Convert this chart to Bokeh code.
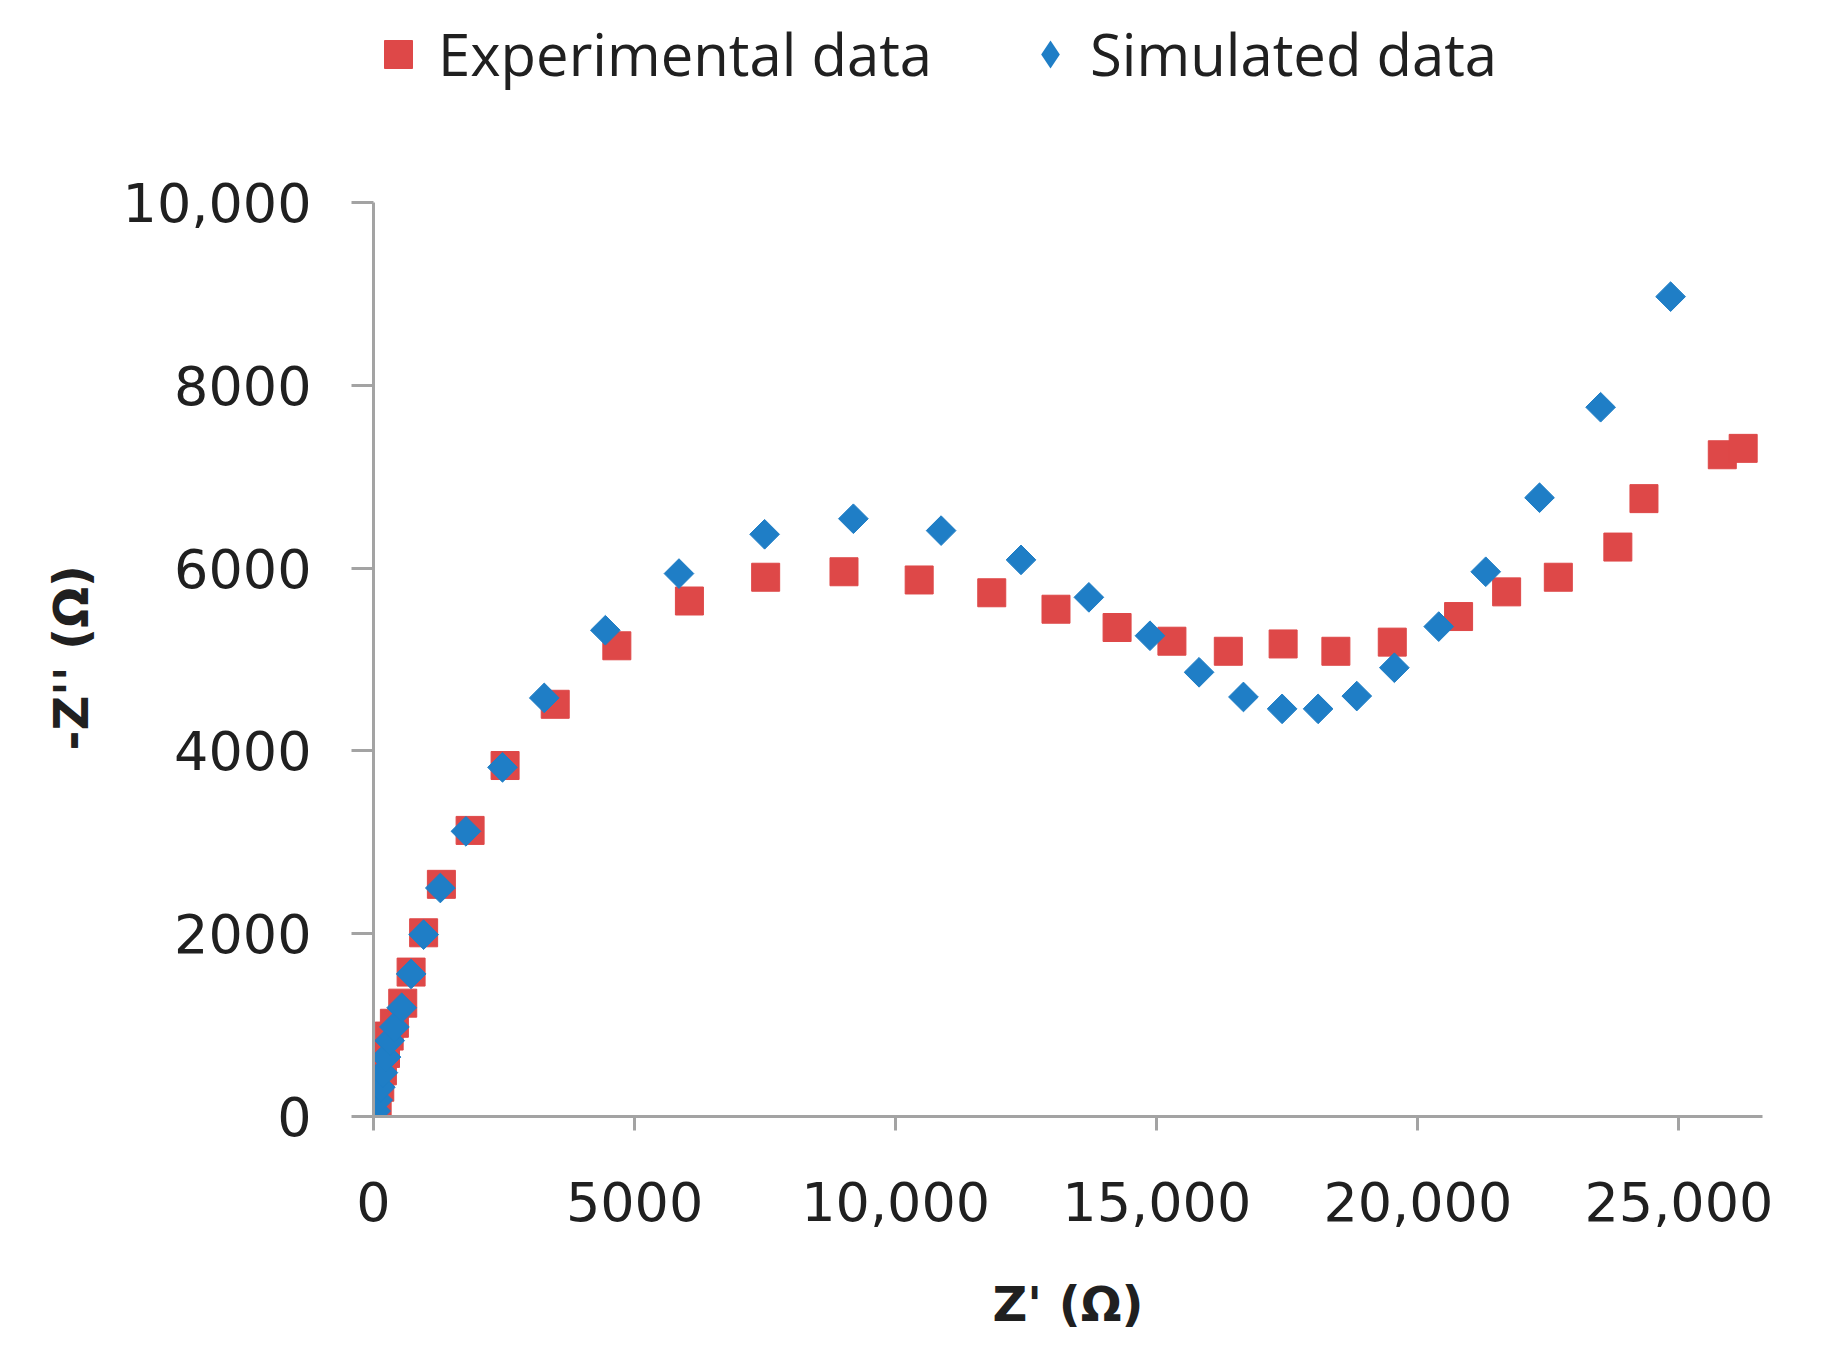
import numpy as np
from bokeh.plotting import figure
from bokeh.models import Range1d, FixedTicker, Legend, LegendItem, Title
from bokeh.embed import file_html
from bokeh.resources import INLINE

# Experimental impedance points (Z', -Z'')
exp_x = [30, 70, 120, 170, 230, 300, 400, 560, 720, 960, 1300, 1850, 2520, 3480,
         4660, 6050, 7510, 9010, 10450, 11840, 13070, 14240, 15290, 16370, 17420,
         18430, 19510, 20780, 21700, 22690, 23830, 24330, 25830, 26230]
exp_y = [0, 150, 320, 500, 690, 880, 1020, 1240, 1580, 2010, 2540, 3130, 3840, 4510,
         5150, 5640, 5900, 5960, 5870, 5730, 5550, 5350, 5200, 5090, 5170,
         5090, 5190, 5470, 5740, 5900, 6230, 6760, 7240, 7310]

# Simulated impedance points
sim_x = [0, 40, 80, 130, 180, 240, 310, 400, 540, 720, 960, 1280, 1770, 2470, 3270,
         4440, 5850, 7490, 9190, 10870, 12400, 13700, 14870, 15810, 16660, 17400,
         18090, 18830, 19550, 20400, 21300, 22330, 23500, 24840]
sim_y = [0, 60, 180, 320, 480, 650, 830, 980, 1190, 1560, 1990, 2500, 3120, 3820, 4580,
         5320, 5940, 6370, 6540, 6410, 6090, 5680, 5260, 4860, 4590, 4460,
         4460, 4600, 4910, 5360, 5960, 6770, 7760, 8970]

x_ticks = [0, 5000, 10000, 15000, 20000, 25000]
x_tick_labels = ["0", "5000", "10,000", "15,000", "20,000", "25,000"]
y_ticks = [0, 2000, 4000, 6000, 8000, 10000]
y_tick_labels = ["0", "2000", "4000", "6000", "8000", "10,000"]

red = "#DE4848"
blue = "#1F7EC6"
axis_gray = "#A3A3A3"
text_col = "#202020"

# the frame runs up to the top of the page so the legend can sit inside it;
# the axes themselves stop at 10,000 through their bounds
p = figure(width=1816, height=1346, output_backend="svg", toolbar_location=None,
           x_range=Range1d(0, 26600), y_range=Range1d(0, 12210),
           min_border_left=373, min_border_right=54,
           min_border_top=0, min_border_bottom=230)
p.grid.visible = False
p.outline_line_color = None

r_exp = p.scatter(exp_x, exp_y, marker="square", size=28, color=red)
r_sim = p.scatter(sim_x, sim_y, marker="square", angle=np.pi / 4, size=21, color=blue)
# legend swatch for the simulated series (legend ignores marker angle), not drawn on the plot
r_sim_key = p.scatter(sim_x, sim_y, marker="diamond", size=0, fill_color=blue, line_color=None)

p.xaxis.ticker = FixedTicker(ticks=x_ticks)
p.xaxis.major_label_overrides = dict(zip(x_ticks, x_tick_labels))
p.xaxis.bounds = (0, 26600)
p.yaxis.ticker = FixedTicker(ticks=y_ticks)
p.yaxis.major_label_overrides = dict(zip(y_ticks, y_tick_labels))
p.yaxis.bounds = (0, 10000)

for ax in (p.xaxis[0], p.yaxis[0]):
    ax.axis_line_color = axis_gray
    ax.axis_line_width = 3
    ax.major_tick_line_color = axis_gray
    ax.major_tick_line_width = 3
    ax.major_tick_in = 0
    ax.minor_tick_line_color = None
    ax.major_label_text_font = "DejaVu Sans"
    ax.major_label_text_font_size = "54px"
    ax.major_label_text_color = text_col
    ax.axis_label_text_font = "DejaVu Sans"
    ax.axis_label_text_font_style = "bold"
    ax.axis_label_text_font_size = "48px"
    ax.axis_label_text_color = text_col

p.xaxis.major_tick_out = 14
p.xaxis.major_label_standoff = 51
p.xaxis.axis_label = "Z' (Ω)"
p.xaxis.axis_label_standoff = 52
p.yaxis.major_tick_out = 22
p.yaxis.major_label_standoff = 40

# y title as a side title so it centres on the 0-10,000 axis, not the taller frame
ytitle = Title(text="-Z'' (Ω)", align="left", offset=366, standoff=42,
               text_font="DejaVu Sans", text_font_style="bold",
               text_font_size="48px", text_color=text_col)
p.add_layout(ytitle, "left")

legend = Legend(items=[LegendItem(label="Experimental data", renderers=[r_exp]),
                       LegendItem(label="Simulated data", renderers=[r_sim_key])],
                orientation="horizontal", location=(-10, 1023),
                glyph_width=70, glyph_height=70, label_standoff=5, spacing=83,
                padding=0, margin=0, border_line_color=None,
                background_fill_alpha=0,
                label_text_font="Open Sans", label_text_font_size="58px",
                label_text_color=text_col)
p.add_layout(legend)

open("out.html", "w").write(file_html(p, INLINE))
